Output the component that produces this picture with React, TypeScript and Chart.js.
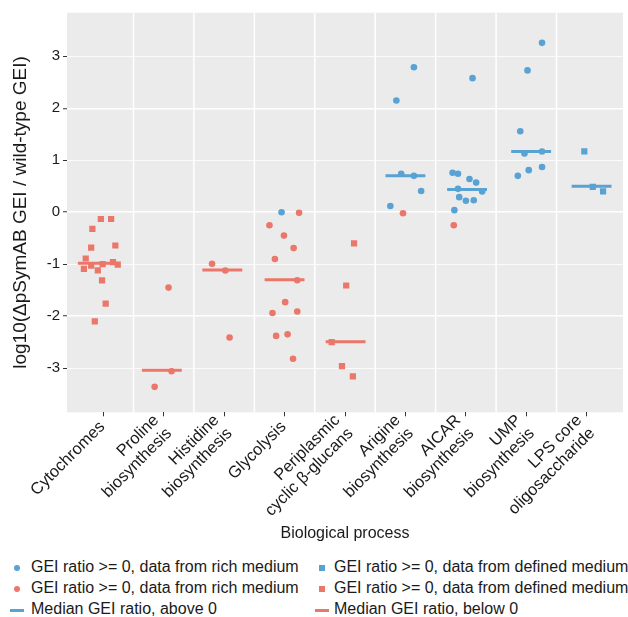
import React, { useEffect, useRef } from "react";
import { Chart, registerables } from "chart.js";

Chart.register(...registerables);

const FONT = "'Liberation Sans', Arial, Helvetica, sans-serif";
const RED = "#EB776B";
const BLUE = "#58A3D4";
const TEXT = "#1A1A1A";

// ---- data ----
const categories: string[][] = [
  ["Cytochromes"],
  ["Proline", "biosynthesis"],
  ["Histidine", "biosynthesis"],
  ["Glycolysis"],
  ["Periplasmic", "cyclic \u03b2-glucans"],
  ["Arigine", "biosynthesis"],
  ["AICAR", "biosynthesis"],
  ["UMP", "biosynthesis"],
  ["LPS core", "oligosaccharide"],
];
const yTicks = [-3, -2, -1, 0, 1, 2, 3];

// GEI ratio >= 0, rich medium (blue circles)
const blueRichCat = [3, 5, 5, 5, 5, 5, 5, 6, 6, 6, 6, 6, 6, 6, 6, 6, 6, 6, 7, 7, 7, 7, 7, 7, 7, 7];
const blueRichVal = [0.0, 2.79, 2.15, 0.74, 0.7, 0.41, 0.12, 2.58, 0.76, 0.74, 0.64, 0.57, 0.45, 0.4, 0.29, 0.22, 0.23, 0.04, 3.26, 2.73, 1.56, 1.17, 1.13, 0.87, 0.81, 0.7];
const blueRichJit = [-0.05, 0.14, -0.15, -0.07, 0.14, 0.26, -0.25, 0.11, -0.22, -0.13, 0.06, 0.17, -0.13, 0.27, -0.11, 0.0, 0.13, -0.19, 0.26, 0.02, -0.1, 0.26, -0.03, 0.26, 0.04, -0.14];

// GEI ratio >= 0, defined medium (blue squares)
const blueDefCat = [8, 8, 8];
const blueDefVal = [1.17, 0.49, 0.4];
const blueDefJit = [-0.04, 0.1, 0.27];

// red circles (rich medium)
const redRichCat = [1, 1, 1, 2, 2, 2, 3, 3, 3, 3, 3, 3, 3, 3, 3, 3, 3, 3, 5, 6];
const redRichVal = [-1.45, -3.06, -3.36, -0.99, -1.12, -2.41, -0.01, -0.25, -0.45, -0.69, -0.9, -1.31, -1.73, -1.94, -1.91, -2.38, -2.35, -2.82, -0.02, -0.25];
const redRichJit = [0.08, 0.13, -0.15, -0.2, 0.02, 0.09, 0.24, -0.25, -0.01, 0.15, -0.16, 0.21, 0.01, -0.2, 0.21, -0.14, 0.05, 0.14, -0.04, -0.2];

// red squares (defined medium)
const redDefCat = [0, 0, 0, 0, 0, 0, 0, 0, 0, 0, 0, 0, 0, 0, 0, 4, 4, 4, 4, 4];
const redDefVal = [-0.13, -0.13, -0.32, -0.68, -0.64, -0.89, -1.09, -1.03, -1.12, -1.0, -0.96, -1.01, -1.31, -1.76, -2.1, -0.6, -1.41, -2.5, -2.96, -3.16];
const redDefJit = [-0.04, 0.13, -0.18, -0.2, 0.2, -0.29, -0.32, -0.2, -0.09, -0.01, 0.16, 0.24, -0.02, 0.04, -0.14, 0.15, 0.02, -0.22, -0.05, 0.13];

// medians
const medianAboveCat = [5, 6, 7, 8];
const medianAboveVal = [0.7, 0.44, 1.17, 0.5];
const medianAboveJit = [0.0, 0.02, 0.08, 0.08];
const medianBelowCat = [0, 1, 2, 3, 4];
const medianBelowVal = [-0.98, -3.04, -1.11, -1.3, -2.49];
const medianBelowJit = [-0.09, -0.03, -0.03, 0.0, 0.01];

const legendLabels = [
  "GEI ratio >= 0, data from rich medium",
  "GEI ratio >= 0, data from defined medium",
  "GEI ratio >= 0, data from rich medium",
  "GEI ratio >= 0, data from defined medium",
  "Median GEI ratio, above 0",
  "Median GEI ratio, below 0",
];
const legendKinds = ["circle", "square", "circle", "square", "line", "line"];
const legendColors = [BLUE, BLUE, RED, RED, BLUE, RED];

const MEDIAN_HALF = 0.33;

function pts(cat: number[], val: number[], jit: number[]) {
  return cat.map((c, i) => ({ x: c + jit[i], y: val[i] }));
}
function segs(cat: number[], val: number[], jit: number[]) {
  const out: any[] = [];
  cat.forEach((c, i) => {
    const cx = c + jit[i];
    out.push({ x: cx - MEDIAN_HALF, y: val[i] });
    out.push({ x: cx + MEDIAN_HALF, y: val[i] });
    out.push({ x: cx + MEDIAN_HALF, y: null });
  });
  return out;
}

const W = 628;
const CANVAS_H = 548;
const AREA_TOP = 12.7;
const AREA_BOTTOM = 412.3;
const AREA_LEFT = 67;
const AREA_RIGHT = 623;

const panelPlugin = {
  id: "panel",
  beforeDraw(chart: any) {
    const { ctx, chartArea: a } = chart;
    ctx.save();
    ctx.fillStyle = "#EBEBEB";
    ctx.fillRect(a.left, a.top, a.right - a.left, a.bottom - a.top);
    ctx.restore();
  },
  beforeDatasetsDraw(chart: any) {
    const { ctx, chartArea: a, scales } = chart;
    const x = scales.x;
    ctx.save();
    ctx.strokeStyle = "#FFFFFF";
    ctx.lineWidth = 1.5;
    for (let i = 0; i < categories.length - 1; i++) {
      const px = x.getPixelForValue(i + 0.5);
      ctx.beginPath();
      ctx.moveTo(px, a.top);
      ctx.lineTo(px, a.bottom);
      ctx.stroke();
    }
    ctx.restore();
  },
  afterDraw(chart: any) {
    const { ctx, chartArea: a, scales } = chart;
    const x = scales.x;
    const lh = 18.5;
    ctx.save();
    ctx.font = `16.5px ${FONT}`;
    ctx.fillStyle = TEXT;
    ctx.textAlign = "right";
    ctx.textBaseline = "middle";
    categories.forEach((lines, i) => {
      const px = x.getPixelForValue(i) - 1;
      const py = a.bottom + 12;
      ctx.save();
      ctx.translate(px, py);
      ctx.rotate(-Math.PI / 4);
      lines.forEach((ln, k) => {
        ctx.fillText(ln, 0, (k - (lines.length - 1) / 2) * lh);
      });
      ctx.restore();
    });
    ctx.restore();
  },
};

function ChartCanvas() {
  const ref = useRef<HTMLCanvasElement>(null);
  useEffect(() => {
    document.body.style.margin = "0";
    const canvas = ref.current!;
    const chart = new Chart(canvas, {
      type: "scatter",
      data: {
        datasets: [
          {
            data: pts(blueRichCat, blueRichVal, blueRichJit),
            backgroundColor: BLUE,
            borderColor: BLUE,
            pointStyle: "circle",
            pointRadius: 3.3,
            borderWidth: 0,
            order: 1,
          },
          {
            data: pts(blueDefCat, blueDefVal, blueDefJit),
            backgroundColor: BLUE,
            borderColor: BLUE,
            pointStyle: "rect",
            pointRadius: 4.4,
            borderWidth: 0,
            order: 1,
          },
          {
            data: pts(redRichCat, redRichVal, redRichJit),
            backgroundColor: RED,
            borderColor: RED,
            pointStyle: "circle",
            pointRadius: 3.3,
            borderWidth: 0,
            order: 1,
          },
          {
            data: pts(redDefCat, redDefVal, redDefJit),
            backgroundColor: RED,
            borderColor: RED,
            pointStyle: "rect",
            pointRadius: 4.4,
            borderWidth: 0,
            order: 1,
          },
          {
            data: segs(medianAboveCat, medianAboveVal, medianAboveJit),
            showLine: true,
            spanGaps: false,
            borderColor: BLUE,
            borderWidth: 3,
            pointRadius: 0,
            order: 2,
          } as any,
          {
            data: segs(medianBelowCat, medianBelowVal, medianBelowJit),
            showLine: true,
            spanGaps: false,
            borderColor: RED,
            borderWidth: 3,
            pointRadius: 0,
            order: 2,
          } as any,
        ],
      },
      options: {
        animation: false,
        responsive: false,
        devicePixelRatio: 1,
        layout: {
          padding: { top: AREA_TOP, right: W - AREA_RIGHT, left: 0, bottom: 0 },
        },
        plugins: {
          legend: { display: false },
          tooltip: { enabled: false },
        },
        scales: {
          x: {
            type: "linear",
            min: -0.6,
            max: categories.length - 1 + 0.6,
            afterBuildTicks: (s: any) => {
              s.ticks = categories.map((_, i) => ({ value: i }));
            },
            afterFit: (s: any) => {
              s.height = CANVAS_H - AREA_BOTTOM;
            },
            ticks: { display: false },
            grid: {
              drawOnChartArea: false,
              drawTicks: true,
              tickLength: 4,
              tickColor: "#333333",
              tickWidth: 1,
            },
            border: { display: false },
            title: {
              display: true,
              text: "Biological process",
              color: TEXT,
              font: { family: FONT, size: 16 },
              padding: { top: 0, bottom: 5 },
            },
          },
          y: {
            type: "linear",
            min: -3.85,
            max: 3.84,
            afterBuildTicks: (s: any) => {
              s.ticks = yTicks.map((v) => ({ value: v }));
            },
            afterFit: (s: any) => {
              s.width = AREA_LEFT;
            },
            ticks: {
              color: TEXT,
              font: { family: FONT, size: 15 },
              padding: 3,
            },
            grid: {
              color: "#FFFFFF",
              lineWidth: (c: any) => (c.tick && c.tick.value % 2 === 0 ? 1.5 : 0.8),
              drawTicks: true,
              tickLength: 4,
              tickColor: "#333333",
              tickWidth: 1,
            },
            border: { display: false },
            title: {
              display: true,
              text: "log10(\u0394pSymAB GEI / wild-type GEI)",
              color: TEXT,
              font: { family: FONT, size: 19 },
              padding: { top: 9, bottom: 0 },
            },
          },
        },
      },
      plugins: [panelPlugin],
    });
    return () => chart.destroy();
  }, []);
  return <canvas ref={ref} width={W} height={CANVAS_H} style={{ display: "block", width: W, height: CANVAS_H }} />;
}

function Legend() {
  const rowsY = [568, 589, 610];
  const keyX = [17, 322];
  const textX = [31, 334];
  return (
    <>
      {legendLabels.map((label, i) => {
        const row = Math.floor(i / 2);
        const col = i % 2;
        const kind = legendKinds[i];
        const color = legendColors[i];
        const cy = rowsY[row];
        let marker: any;
        if (kind === "circle") {
          marker = { left: keyX[col] - 3.3, top: cy - 3.3, width: 6.6, height: 6.6, borderRadius: "50%", background: color };
        } else if (kind === "square") {
          marker = { left: keyX[col] - 3.2, top: cy - 3.2, width: 6.4, height: 6.4, background: color };
        } else {
          marker = { left: keyX[col] - 7, top: cy - 1.5, width: 14, height: 3, background: color };
        }
        return (
          <React.Fragment key={i}>
            <div style={{ position: "absolute", ...marker }} />
            <div
              style={{
                position: "absolute",
                left: textX[col],
                top: cy - 10,
                height: 20,
                lineHeight: "20px",
                font: `16px ${FONT}`,
                color: TEXT,
                whiteSpace: "nowrap",
              }}
            >
              {label}
            </div>
          </React.Fragment>
        );
      })}
    </>
  );
}

export default function App() {
  return (
    <div style={{ position: "relative", width: W, height: 617, background: "#FFFFFF", overflow: "hidden" }}>
      <ChartCanvas />
      <Legend />
    </div>
  );
}
